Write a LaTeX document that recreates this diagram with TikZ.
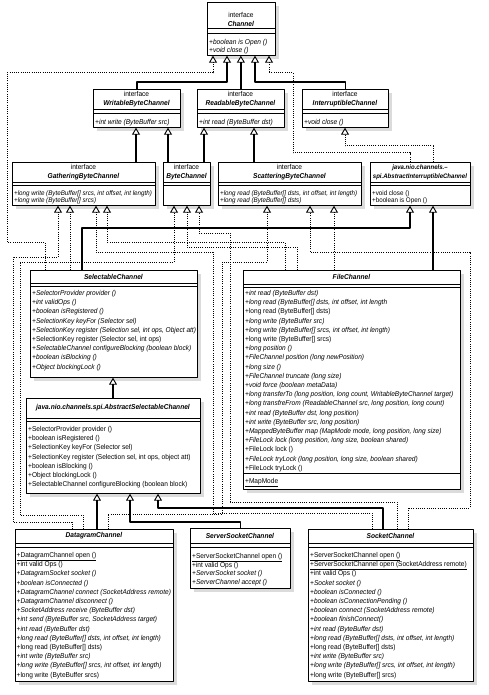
\documentclass[tikz,border=0pt]{standalone}
\usepackage{fontspec}
\setmainfont{Liberation Sans}[FakeStretch=0.93]
\usetikzlibrary{arrows.meta,shadows}
\newcommand\hdrfont{\fontsize{7.1}{9}\selectfont}
\newcommand\opsfont{\fontsize{7.05}{9.2}\selectfont}
\newcommand\smallops{\fontsize{7.1}{8}\selectfont}
\newcommand\tinyops{\fontsize{6.7}{7.5}\selectfont}
\newcommand\cname[1]{\textbf{\textit{#1}}}
\newcommand\umlsep[2]{\draw[line width=0.6pt] (#1.west |- 0,#2) -- (#1.east |- 0,#2);}
\begin{document}
\begin{tikzpicture}[x=1pt,y=-1pt,line join=round,
	box/.style={draw,line width=0.7pt,fill=white,inner sep=0pt,anchor=north west,
		drop shadow={shadow xshift=3.5pt,shadow yshift=-3.5pt,fill=black!28}},
	hdr/.style={align=center,inner sep=0pt,font=\hdrfont},
	ops/.style={anchor=north west,align=left,inner sep=0pt,font=\opsfont,execute at begin node=\strut},
	gen/.style={line width=1.5pt,-{Triangle[open,width=8pt,length=7pt,line width=0.9pt]}},
	real/.style={line width=1pt,dash pattern=on 1pt off 1.2pt,-{Triangle[open,width=8pt,length=7pt,line width=0.9pt]}}]
	\useasboundingbox (0,0) rectangle (488,695);
	% interfaces
	\node[box,minimum width=68pt,minimum height=53pt] (chan) at (207,2) {};
	\node[box,minimum width=87pt,minimum height=38pt] (wbc) at (93,89) {};
	\node[box,minimum width=87pt,minimum height=38pt] (rbc) at (197,89) {};
	\node[box,minimum width=86pt,minimum height=38pt] (ic) at (302,89) {};
	\node[box,minimum width=143pt,minimum height=43pt] (gbc) at (12,162) {};
	\node[box,minimum width=47pt,minimum height=43pt] (bc) at (163,162) {};
	\node[box,minimum width=143pt,minimum height=43pt] (sbc) at (218,162) {};
	\node[box,minimum width=100pt,minimum height=43pt] (aic) at (370,162) {};
	% classes
	\node[box,minimum width=167pt,minimum height=107pt] (sc) at (30,270) {};
	\node[box,minimum width=217pt,minimum height=219pt] (fc) at (243,270) {};
	\node[box,minimum width=174pt,minimum height=95pt] (asc) at (26,398) {};
	\node[box,minimum width=158pt,minimum height=152pt] (dc) at (15,529) {};
	\node[box,minimum width=100pt,minimum height=60pt] (ssc) at (190,528) {};
	\node[box,minimum width=165pt,minimum height=152pt] (skc) at (308,529) {};
	\umlsep{chan}{28} \umlsep{chan}{33}
	\umlsep{wbc}{109} \umlsep{wbc}{113}
	\umlsep{rbc}{109} \umlsep{rbc}{113}
	\umlsep{ic}{109} \umlsep{ic}{113}
	\umlsep{gbc}{182} \umlsep{gbc}{185}
	\umlsep{bc}{182} \umlsep{bc}{185}
	\umlsep{sbc}{182} \umlsep{sbc}{185}
	\umlsep{aic}{182} \umlsep{aic}{185}
	\umlsep{sc}{283} \umlsep{sc}{286}
	\umlsep{fc}{284} \umlsep{fc}{287} \umlsep{fc}{473}
	\umlsep{asc}{418} \umlsep{asc}{421}
	\umlsep{dc}{543} \umlsep{dc}{547}
	\umlsep{ssc}{543} \umlsep{ssc}{547}
	\umlsep{skc}{543} \umlsep{skc}{547}
	% headers
	\node[hdr] (chan-h) at (241,19.5) {interface\\\cname{Channel}};
	\node[hdr] (wbc-h) at (136.5,99.5) {interface\\\cname{WritableByteChannel}};
	\node[hdr] (rbc-h) at (240.5,99.5) {interface\\\cname{ReadableByteChannel}};
	\node[hdr] (ic-h) at (345,99.5) {interface\\\cname{InterruptibleChannel}};
	\node[hdr] (gbc-h) at (83.5,172) {interface\\\cname{GatheringByteChannel}};
	\node[hdr] (bc-h) at (186.5,172) {interface\\\cname{ByteChannel}};
	\node[hdr] (sbc-h) at (289.5,172) {interface\\\cname{ScatteringByteChannel}};
	\node[hdr,font=\fontsize{6.5}{9}\selectfont] (aic-h) at (420,172) {\cname{java.nio.channels.–}\\\cname{spi.AbstractInterruptibleChannel}};
	\node[hdr] (sc-h) at (113.5,277) {\cname{SelectableChannel}};
	\node[hdr] (fc-h) at (351.5,277) {\cname{FileChannel}};
	\node[hdr] (asc-h) at (113,408) {\cname{java.nio.channels.spi.AbstractSelectableChannel}};
	\node[hdr] (dc-h) at (94,536) {\cname{DatagramChannel}};
	\node[hdr] (ssc-h) at (240,536) {\cname{ServerSocketChannel}};
	\node[hdr] (skc-h) at (390.5,536) {\cname{SocketChannel}};
	% operations
	\node[ops,font=\smallops] (chan-o) at (209,38.9) {\textit{+boolean is Open ()}\\\textit{+void close ()}};
	\node[ops,font=\smallops] (wbc-o) at (95,118.9) {\textit{+int write (ByteBuffer src)}};
	\node[ops,font=\smallops] (rbc-o) at (199,118.9) {\textit{+int read (ByteBuffer dst)}};
	\node[ops,font=\smallops] (ic-o) at (304,118.9) {\textit{+void close ()}};
	\node[ops,font=\tinyops] (gbc-o) at (14,190) {\textit{+long write (ByteBuffer[] srcs, int offset, int length)}\\\textit{+long write (ByteBuffer[] srcs)}};
	\node[ops,font=\tinyops] (sbc-o) at (220,190) {\textit{+long read (ByteBuffer[] dsts, int offset, int length)}\\\textit{+long read (ByteBuffer[] dsts)}};
	\node[ops,font=\tinyops] (aic-o) at (372,190) {+void close ()\\+boolean is Open ()};
	\node[ops] (sc-o) at (32,290.2) {\textit{+SelectorProvider provider ()}\\
		\textit{+int validOps ()}\\
		\textit{+boolean isRegistered ()}\\
		\textit{+SelectionKey keyFor (Selector sel)}\\
		\textit{+SelectionKey register (Selection sel, int ops, Object att)}\\
		+SelectionKey register (Selector sel, int ops)\\
		\textit{+SelectableChannel configureBlocking (boolean block)}\\
		\textit{+boolean isBlocking ()}\\
		\textit{+Object blockingLock ()}};
	\node[ops] (fc-o) at (245,290.2) {\textit{+int read (ByteBuffer dst)}\\
		\textit{+long read (ByteBuffer[] dsts, int offset, int length}\\
		+long read (ByteBuffer[] dsts)\\
		\textit{+long write (ByteBuffer src)}\\
		\textit{+long write (ByteBuffer[] srcs, int offset, int length)}\\
		+long write (ByteBuffer[] srcs)\\
		\textit{+long position ()}\\
		\textit{+FileChannel position (long newPosition)}\\
		\textit{+long size ()}\\
		\textit{+FileChannel truncate (long size)}\\
		\textit{+void force (boolean metaData)}\\
		\textit{+long transferTo (long position, long count, WritableByteChannel target)}\\
		\textit{+long transfreFrom (ReadableChannel src, long position, long count)}\\
		\textit{+int read (ByteBuffer dst, long position)}\\
		\textit{+int write (ByteBuffer src, long position)}\\
		\textit{+MappedByteBuffer map (MapMode mode, long position, long size)}\\
		\textit{+FileLock lock (long position, long size, boolean shared)}\\
		+FileLock lock ()\\
		\textit{+FileLock tryLock (long position, long size, boolean shared)}\\
		+FileLock tryLock ()};
	\node[ops] (fc-m) at (245,477.1) {\underline{+MapMode}};
	\node[ops] (asc-o) at (28,426.2) {+SelectorProvider provider ()\\
		+boolean isRegistered ()\\
		+SelectionKey keyFor (Selector sel)\\
		+SelectionKey register (Selection sel, int ops, object att)\\
		+boolean isBlocking ()\\
		+Object blockingLock ()\\
		+SelectableChannel configureBlocking (boolean block)};
	\node[ops] (dc-o) at (16.5,552.2) {\underline{+DatagramChannel open ()}\\
		+int valid Ops ()\\
		\textit{+DatagramSocket socket ()}\\
		\textit{+boolean isConnected ()}\\
		\textit{+DatagramChannel connect (SocketAddress remote)}\\
		\textit{+DatagramChannel disconnect ()}\\
		\textit{+SocketAddress receive (ByteBuffer dst)}\\
		\textit{+int send (ByteBuffer src, SocketAddress target)}\\
		\textit{+int read (ByteBuffer dst)}\\
		\textit{+long read (ByteBuffer[] dsts, int offset, int length)}\\
		+long read (ByteBuffer[] dsts)\\
		\textit{+int write (ByteBuffer src)}\\
		\textit{+long write (ByteBuffer[] srcs, int offset, int length)}\\
		+long write (ByteBuffer srcs)};
	\node[ops,font=\fontsize{7.05}{8.2}\selectfont] (ssc-o) at (192,552.8) {\underline{+ServerSocketChannel open ()}\\
		+int valid Ops ()\\
		\textit{+ServerSocket socket ()}\\
		\textit{+ServerChannel accept ()}};
	\node[ops] (skc-o) at (310,552.2) {\underline{+ServerSocketChannel open ()}\\
		\underline{+ServerSocketChannel open (SocketAddress remote)}\\
		+int valid Ops ()\\
		\textit{+Socket socket ()}\\
		\textit{+boolean isConnected ()}\\
		\textit{+boolean isConnectionPending ()}\\
		\textit{+boolean connect (SocketAddress remote)}\\
		\textit{+boolean finishConnect()}\\
		\textit{+int read (ByteBuffer dst)}\\
		\textit{+long read (ByteBuffer[] dsts, int offset, int length)}\\
		+long read (ByteBuffer[] dsts)\\
		\textit{+int write (ByteBuffer src)}\\
		\textit{+long write (ByteBuffer[] srcs, int offset, int length)}\\
		+long write (ByteBuffer[] srcs)};
	% extends Channel
	\draw[gen] (wbc.north) |- (227,82) -- (227,0 |- chan.south);
	\draw[gen] (rbc.north) -- (rbc.north |- chan.south);
	\draw[gen] (ic.north) |- (255,82) -- (255,0 |- chan.south);
	\draw[real] (45,0 |- sc.north) |- (7,242) |- (213,73) -- (213,0 |- chan.south);
	\draw[real] (410,0 |- aic.north) |- (293,153) |- (269,73) -- (269,0 |- chan.south);
	\draw[real] (433,0 |- aic.north) |- (345,146) -- (345,0 |- ic.south);
	% second row
	\draw[gen] (136,0 |- gbc.north) -- (136,0 |- wbc.south);
	\draw[gen] (168,0 |- bc.north) -- (168,0 |- wbc.south);
	\draw[gen] (204,0 |- bc.north) -- (204,0 |- rbc.south);
	\draw[gen] (254,0 |- sbc.north) -- (254,0 |- rbc.south);
	% SelectableChannel, FileChannel
	\draw[real] (70,0 |- sc.north) -- (70,0 |- gbc.south);
	\draw[gen] (82,0 |- sc.north) |- (410,228) -- (410,0 |- aic.south);
	\draw[gen] (433,0 |- fc.north) -- (433,0 |- aic.south);
	\draw[real] (285,0 |- fc.north) |- (107,242) -- (107,0 |- gbc.south);
	\draw[real] (297,0 |- fc.north) |- (187,247) -- (187,0 |- bc.south);
	\draw[real] (334,0 |- fc.north) -- (334,0 |- sbc.south);
	\draw[gen] (113,0 |- asc.north) -- (113,0 |- sc.south);
	% DatagramChannel
	\draw[gen] (97,0 |- dc.north) -- (97,0 |- asc.south);
	\draw[real] (72,0 |- dc.north) |- (13,522) |- (58,257) -- (58,0 |- gbc.south);
	\draw[real] (83,0 |- dc.north) |- (20,515) |- (174,262) -- (174,0 |- bc.south);
	\draw[real] (108,0 |- dc.north) |- (222,514) |- (267,262) -- (267,0 |- sbc.south);
	% ServerSocketChannel, SocketChannel
	\draw[gen] (ssc.north) |- (130,522) -- (130,0 |- asc.south);
	\draw[gen] (383,0 |- skc.north) |- (158,508) -- (158,0 |- asc.south);
	\draw[real] (372,0 |- skc.north) |- (213,513) |- (96,252) -- (96,0 |- gbc.south);
	\draw[real] (397,0 |- skc.north) |- (230,502) |- (199,233) -- (199,0 |- bc.south);
	\draw[real] (408,0 |- skc.north) |- (470,508) |- (310,252) -- (310,0 |- sbc.south);
\end{tikzpicture}
\end{document}
